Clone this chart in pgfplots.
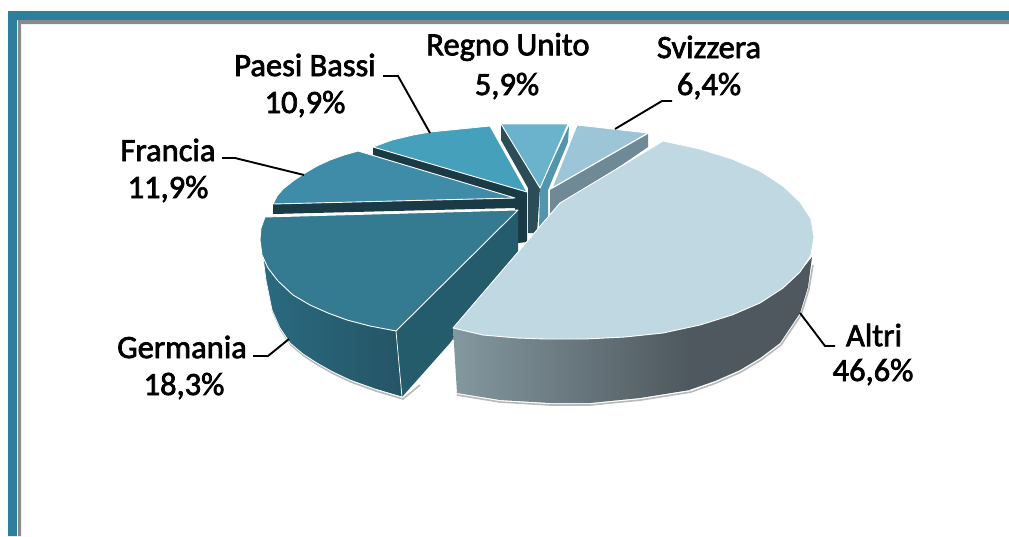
\documentclass[border=0pt]{standalone}
\usepackage{fontspec}
\setmainfont{Carlito}
\newfontfamily\labfont{Carlito}[FakeBold=2.2]
\usepackage{pgfplots}
\pgfplotsset{compat=1.18}
\definecolor{frameblue}{HTML}{2E7F9B}
\definecolor{framegray}{HTML}{8A8A8A}
\definecolor{gerTop}{HTML}{347A90}
\definecolor{gerIn}{HTML}{255C6C}
\definecolor{gerL}{HTML}{2A6A80}
\definecolor{gerR}{HTML}{245565}
\definecolor{fraTop}{HTML}{3E8CA8}
\definecolor{darkWall}{HTML}{1A3A46}
\definecolor{paeTop}{HTML}{45A0BC}
\definecolor{regTop}{HTML}{6BB3CC}
\definecolor{regIn}{HTML}{2C4C58}
\definecolor{regR}{HTML}{5395AC}
\definecolor{sviTop}{HTML}{9CC6D8}
\definecolor{sviWall}{HTML}{6F8A96}
\definecolor{altTop}{HTML}{BFD8E2}
\definecolor{altL}{HTML}{84989F}
\definecolor{altR}{HTML}{4E585E}
\tikzset{
  slice/.style={fill=#1, draw=none},
  top/.style={fill=#1, draw=white, line width=0.9pt, line join=round},
  leader/.style={black, line width=1.9pt},
  lab/.style={font=\fontsize{32.5}{35}\selectfont\labfont, text=black, inner sep=0pt, anchor=center},
}
\begin{document}
\begin{tikzpicture}
\begin{axis}[
  hide axis, scale only axis, width=1009pt, height=536pt,
  xmin=0, xmax=1009, ymin=0, ymax=536, y dir=reverse,
  enlargelimits=false, clip=true,
]
% canvas, keeps the page at full size
\addplot[slice=white] coordinates {(0,0) (1009,0) (1009,536) (0,536)} -- cycle;
% frame
\addplot[slice=frameblue] coordinates {(8,11) (1009,11) (1009,20) (17,20) (17,536) (8,536)} -- cycle;
\addplot[slice=framegray] coordinates {(18,20) (1009,20) (1009,24) (21,24) (21,536) (18,536)} -- cycle;

% Regno Unito
\addplot[slice=regIn] coordinates {(501,124) (540,188) (537,233) (528,233) (528,188) (501,140)} -- cycle;
\addplot[slice=regR] coordinates {(569,126) (568,142) (548,190) (548,217) (539,228) (540,188)} -- cycle;
\addplot[top=regTop] coordinates {(501,124) (568,124) (540,188)} -- cycle;
% Svizzera
\addplot[slice=sviWall] coordinates {(550,190) (648,134) (648,147) (550,214)} -- cycle;
\addplot[top=sviTop] coordinates {(577,125) (648,133) (552,188)} -- cycle;
% Paesi Bassi
\addplot[slice=darkWall] coordinates {(373,147) (373,155) (515,200) (518,243) (527,242) (527,192)} -- cycle;
\addplot[top=paeTop] coordinates {(373,147) (392,140) (413,135) (430,132) (460,129) (490,126) (527,192)} -- cycle;
% Francia
\addplot[slice=darkWall] coordinates {(273,204) (273,214) (515,208) (518,243) (519,198)} -- cycle;
\addplot[top=fraTop] coordinates {(273,204) (277,196) (283,189) (293,181) (305,173) (317,166) (330,160) (344,155) (358,151) (515,198)} -- cycle;
% Germania
\addplot[gray!55, line width=1.6pt] coordinates {(264,258) (267,282) (273,312) (281,330) (291,345) (304,356) (318,365) (334,374) (351,382) (376,391) (403,399) (420,385)};
\addplot[slice=gerIn] coordinates {(396,331) (518,210) (518,252) (483,297) (450,343) (402,397)} -- cycle;
\addplot[shade, left color=gerL, right color=gerR, draw=white, line width=0.7pt] coordinates {(263,257) (266,280) (272,310) (280,328) (290,343) (303,354) (317,363) (333,372) (350,380) (375,389) (402,397) (396,331)} -- cycle;
\addplot[top=gerTop] coordinates {(265,217) (261,228) (260,240) (262,255) (268,268) (278,281) (293,295) (310,305) (328,313) (347,320) (370,326) (396,331) (518,210)} -- cycle;
% Altri
\addplot[gray!55, line width=1.6pt] coordinates {(813,265) (809,289) (801,315) (781,345) (761,360) (741,372) (716,383) (691,392) (641,400) (590,405) (550,405) (500,402) (457,395)};
\addplot[shade, left color=altL, right color=altR, draw=none] coordinates {(453,328) (483,335) (517,338) (545,337) (585,339) (625,337) (663,333) (690,327) (690,390) (640,398) (590,403) (550,403) (500,400) (457,393)} -- cycle;
\addplot[slice=altR] coordinates {(689,327) (700,325) (732,315) (760,303) (783,288) (800,272) (812,257) (808,287) (800,313) (780,343) (760,358) (740,370) (715,381) (689,390)} -- cycle;
\addplot[top=altTop] coordinates {(663,141) (700,149) (732,159) (760,171) (783,186) (800,202) (811,219) (814,237) (811,255) (800,272) (783,288) (760,303) (732,315) (700,325) (663,333) (625,337) (585,339) (545,339) (517,338) (483,335) (453,328) (548,217) (560,203)} -- cycle;

% leaders
\addplot[leader] coordinates {(253,356) (268,356) (289,339)};
\addplot[leader] coordinates {(800,313) (825,346) (835,346)};
\addplot[leader] coordinates {(222,158) (235,158) (304,175)};
\addplot[leader] coordinates {(383,76) (398,76) (430,133)};
\addplot[leader] coordinates {(615,129) (662,101) (672,101)};

% labels
\node[lab] at (axis cs:305,65) {Paesi Bassi};
\node[lab] at (axis cs:305,104) {10,9\%};
\node[lab] at (axis cs:508,47) {Regno Unito};
\node[lab] at (axis cs:507,86) {5,9\%};
\node[lab] at (axis cs:709,47) {Svizzera};
\node[lab] at (axis cs:709,86) {6,4\%};
\node[lab] at (axis cs:168,150) {Francia};
\node[lab] at (axis cs:168,189) {11,9\%};
\node[lab] at (axis cs:182,347) {Germania};
\node[lab] at (axis cs:184,386) {18,3\%};
\node[lab] at (axis cs:874,335) {Altri};
\node[lab] at (axis cs:873,372) {46,6\%};
\end{axis}
\end{tikzpicture}
\end{document}
